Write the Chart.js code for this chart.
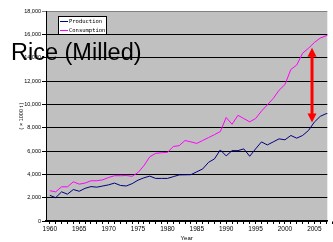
<!DOCTYPE html>
<html>
<head>
<meta charset="utf-8">
<script src="https://cdn.jsdelivr.net/npm/chart.js@4/dist/chart.umd.min.js"></script>
<style>
  html, body { margin: 0; padding: 0; background: #fff; }
  canvas { display: block; }
</style>
</head>
<body>
<canvas id="myChart" width="333" height="242"></canvas>
<script>
(function () {
  'use strict'

  // years shown on the category axis
  var years = [1960, 1961, 1962, 1963, 1964, 1965, 1966, 1967, 1968, 1969,
    1970, 1971, 1972, 1973, 1974, 1975, 1976, 1977, 1978, 1979,
    1980, 1981, 1982, 1983, 1984, 1985, 1986, 1987, 1988, 1989,
    1990, 1991, 1992, 1993, 1994, 1995, 1996, 1997, 1998, 1999,
    2000, 2001, 2002, 2003, 2004, 2005, 2006, 2007, 2008]

  // (x 1000 t)
  var production = [2200, 2000, 2500, 2300, 2700, 2550, 2800, 2950, 2900, 3000,
    3100, 3250, 3050, 3000, 3200, 3500, 3700, 3850, 3650, 3650,
    3650, 3800, 3950, 3960, 3970, 4220, 4460, 5030, 5320, 6090,
    5580, 6030, 6030, 6180, 5550, 6180, 6780, 6520, 6780, 7040,
    6960, 7330, 7100, 7330, 7760, 8480, 8970, 9200, 9250]

  var consumption = [2600, 2500, 2930, 2930, 3360, 3160, 3250, 3450, 3450, 3530,
    3730, 3880, 3880, 3900, 3830, 4150, 4740, 5500, 5800, 5850,
    5880, 6380, 6460, 6900, 6780, 6650, 6900, 7150, 7400, 7670,
    8870, 8290, 9060, 8780, 8500, 8780, 9420, 9950, 10500, 11210,
    11700, 12990, 13370, 14380, 14810, 15300, 15680, 15880, 15950]

  var yTicks = [0, 2000, 4000, 6000, 8000, 10000, 12000, 14000, 16000, 18000]

  // red gap arrow (year, from, to)
  var arrowYear = 2004.6
  var arrowFrom = 8450
  var arrowTo = 14850

  function pts (vals) {
    return years.map(function (y, i) { return { x: y, y: vals[i] } })
  }

  var plotBg = {
    id: 'plotBg',
    beforeDraw: function (chart) {
      var a = chart.chartArea
      var c = chart.ctx
      c.save()
      c.fillStyle = '#c0c0c0'
      c.fillRect(a.left, a.top, a.right - a.left, a.bottom - a.top)
      c.restore()
    }
  }

  var gapArrow = {
    id: 'gapArrow',
    afterDatasetsDraw: function (chart) {
      var c = chart.ctx
      var x = chart.scales.x.getPixelForValue(arrowYear)
      var y1 = chart.scales.y.getPixelForValue(arrowTo)
      var y2 = chart.scales.y.getPixelForValue(arrowFrom)
      var hw = 4.5, hh = 9
      c.save()
      c.strokeStyle = '#ff0000'
      c.fillStyle = '#ff0000'
      c.lineWidth = 3
      c.beginPath()
      c.moveTo(x, y1 + hh - 1)
      c.lineTo(x, y2 - hh + 1)
      c.stroke()
      c.beginPath()
      c.moveTo(x, y1)
      c.lineTo(x - hw, y1 + hh)
      c.lineTo(x + hw, y1 + hh)
      c.closePath()
      c.fill()
      c.beginPath()
      c.moveTo(x, y2)
      c.lineTo(x - hw, y2 - hh)
      c.lineTo(x + hw, y2 - hh)
      c.closePath()
      c.fill()
      c.restore()
    }
  }

  var boxLegend = {
    id: 'boxLegend',
    afterDraw: function (chart) {
      var a = chart.chartArea
      var c = chart.ctx
      var x0 = a.left + 12, y0 = a.top + 5
      c.save()
      c.fillStyle = '#fff'
      c.fillRect(x0, y0, 49, 19)
      c.strokeStyle = '#000'
      c.lineWidth = 1
      c.strokeRect(x0 + 0.5, y0 + 0.5, 48, 18)
      c.font = '5.5px "DejaVu Sans Mono"'
      c.textBaseline = 'middle'
      chart.data.datasets.forEach(function (ds, i) {
        var yy = y0 + 5.5 + i * 9
        c.strokeStyle = ds.borderColor
        c.beginPath()
        c.moveTo(x0 + 2, yy)
        c.lineTo(x0 + 10, yy)
        c.stroke()
        c.fillStyle = '#000'
        c.fillText(ds.label, x0 + 11, yy)
      })
      c.restore()
    }
  }

  var bigTitle = {
    id: 'bigTitle',
    afterDraw: function (chart) {
      var c = chart.ctx
      c.save()
      c.fillStyle = '#000'
      c.font = '23.5px "Liberation Sans", Arial, sans-serif'
      c.textBaseline = 'alphabetic'
      c.fillText('Rice (Milled)', 11, 60)
      c.restore()
    }
  }

  var ctx = document.getElementById('myChart')
  new Chart(ctx, {
    type: 'line',
    data: {
      datasets: [{
        label: 'Production',
        data: pts(production),
        borderColor: '#000080',
        borderWidth: 1,
        pointRadius: 0,
        tension: 0
      }, {
        label: 'Consumption',
        data: pts(consumption),
        borderColor: '#ff00ff',
        borderWidth: 1,
        pointRadius: 0,
        tension: 0
      }]
    },
    options: {
      responsive: false,
      animation: false,
      layout: { padding: { top: 11, right: 0, left: 0, bottom: 0 } },
      plugins: {
        legend: { display: false },
        tooltip: { enabled: false }
      },
      scales: {
        x: {
          type: 'linear',
          min: 1959.35,
          max: 2007.2,
          afterBuildTicks: function (axis) {
            axis.ticks = years.map(function (v) { return { value: v } })
          },
          afterFit: function (scale) { scale.height = 21 },
          border: { color: '#000', width: 1.5 },
          grid: { drawOnChartArea: false, color: '#000', tickLength: 3 },
          ticks: {
            autoSkip: false,
            maxRotation: 0,
            padding: 1,
            color: '#000',
            font: { family: '"Liberation Sans", Arial', size: 6.5 },
            callback: function (v) { return v % 5 === 0 ? String(v) : '' }
          },
          title: {
            display: true,
            text: 'Year',
            color: '#000',
            padding: { top: 0, bottom: 0 },
            font: { family: '"Liberation Sans", Arial', size: 6 }
          }
        },
        y: {
          min: 0,
          max: 18000,
          afterBuildTicks: function (axis) {
            axis.ticks = yTicks.map(function (v) { return { value: v } })
          },
          afterFit: function (scale) { scale.width = 46 },
          border: { color: '#000', width: 1 },
          grid: {
            color: function (c) { return c.tick && c.tick.value === 18000 ? '#808080' : '#000' },
            tickLength: 4
          },
          ticks: {
            padding: 1,
            color: '#000',
            font: { family: '"Liberation Sans", Arial', size: 5.5 }
          },
          title: {
            display: true,
            text: '( × 1000 t )',
            color: '#000',
            padding: { top: 18, bottom: 0 },
            font: { family: '"Liberation Sans", Arial', size: 5.5 }
          }
        }
      }
    },
    plugins: [plotBg, gapArrow, boxLegend, bigTitle]
  })
})()
</script>
</body>
</html>
